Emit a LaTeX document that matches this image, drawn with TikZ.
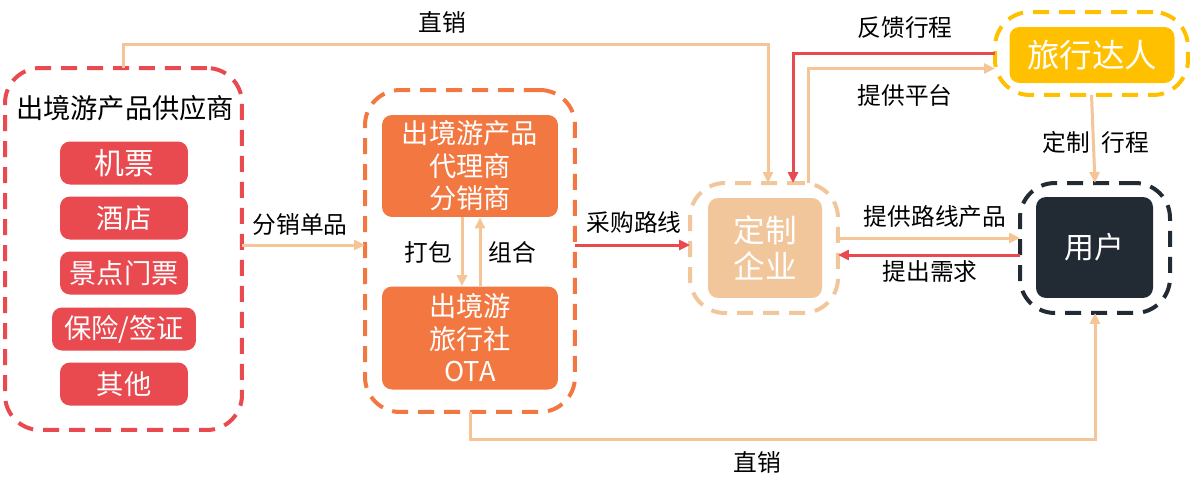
\documentclass[tikz,border=0pt]{standalone}
\usepackage{fontspec}
\setmainfont{Noto Sans CJK SC}
\usetikzlibrary{shapes, arrows.meta, positioning, calc}
\definecolor{supred}{RGB}{232,74,80}
\definecolor{agtorange}{RGB}{242,119,64}
\definecolor{custtan}{RGB}{242,198,155}
\definecolor{lineorange}{RGB}{245,197,152}
\definecolor{expyellow}{RGB}{255,192,0}
\definecolor{userdark}{RGB}{34,42,51}

\tikzset{
  outerbox/.style={rectangle, draw, line width=0.08cm, dash pattern=on 0.32cm off 0.2cm, rounded corners=0.7cm, inner sep=0pt, outer sep=0pt},
  innerbox/.style={rectangle, rounded corners=0.2cm, text=white, align=center, inner sep=0pt},
  itembox/.style={innerbox, fill=supred, minimum width=2.56cm, minimum height=0.86cm, font=\fontsize{15.5}{18}\selectfont},
  link/.style={line width=0.06cm, draw=lineorange, -{Triangle[length=0.22cm,width=0.2cm]}},
  redlink/.style={link, draw=supred},
  lbl/.style={font=\fontsize{13.5}{16}\selectfont}
}

\begin{document}
\begin{tikzpicture}[x=0.02cm, y=-0.02cm]
    \useasboundingbox (0,0) rectangle (1193,491);

    % supplier group
    \node[outerbox, draw=supred, minimum width=4.74cm, minimum height=7.24cm] (supp) at (123.5,249) {};
    \node[font=\fontsize{15.5}{18}\selectfont] (supptitle) at (125,108) {出境游产品供应商};
    \node[itembox, font=\fontsize{17}{20}\selectfont] (ticket) at (124,163) {机票};
    \node[itembox] (hotel) at (124,218) {酒店};
    \node[itembox] (scenic) at (124,273) {景点门票};
    \node[itembox, minimum width=2.88cm] (visa) at (124,329) {保险/签证};
    \node[itembox] (other) at (124,384) {其他};

    % agent group
    \node[outerbox, draw=agtorange, minimum width=4.2cm, minimum height=6.44cm] (agent) at (470,251) {};
    \node[innerbox, fill=agtorange, minimum width=3.52cm, minimum height=2.04cm, font=\fontsize{15.5}{18.5}\selectfont] (dealer) at (470,166) {出境游产品\\代理商\\分销商};
    \node[innerbox, fill=agtorange, minimum width=3.52cm, minimum height=2.06cm, font=\fontsize{15.5}{18.5}\selectfont] (agency) at (470,338) {出境游\\旅行社\\OTA};

    % customize company
    \node[outerbox, draw=custtan, minimum width=2.96cm, minimum height=2.6cm] (cust) at (764,248) {};
    \node[innerbox, fill=custtan, minimum width=2.28cm, minimum height=2cm, font=\fontsize{18}{20.5}\selectfont] (custin) at (765,248) {定制\\企业};

    % travel expert
    \node[outerbox, draw=expyellow, minimum width=3.86cm, minimum height=1.66cm] (expert) at (1091.5,53.5) {};
    \node[innerbox, fill=expyellow, minimum width=3.3cm, minimum height=1.12cm, font=\fontsize{18.5}{21}\selectfont] (expin) at (1092,55) {旅行达人};

    % user
    \node[outerbox, draw=userdark, minimum width=3cm, minimum height=2.6cm] (user) at (1095,248) {};
    \node[innerbox, fill=userdark, minimum width=2.34cm, minimum height=2.02cm, font=\fontsize{17}{20}\selectfont] (userin) at (1094.5,247.5) {用户};

    \coordinate (midline) at (0,245);
    \coordinate (offerline) at (0,238);
    \coordinate (needline) at (0,255);

    % connectors
    \draw[link] (supp.north) -- ++(0,-24) -| ($(cust.north)+(4,0)$);
    \draw[redlink] (expert.west) -| ($(cust.north)+(29,0)$);
    \draw[link] ($(cust.north)+(44,0)$) |- ($(expert.west)+(0,15)$);
    \draw[link] (expert.south) -- (user.north);
    \draw[link] (supp.east |- midline) -- (agent.west |- midline);
    \draw[link] ($(dealer.south)+(-8,0)$) -- ($(agency.north)+(-8,0)$);
    \draw[link] ($(agency.north)+(10,0)$) -- ($(dealer.south)+(10,0)$);
    \draw[redlink] (agent.east |- midline) -- (cust.west |- midline);
    \draw[link] (cust.east |- offerline) -- (user.west |- offerline);
    \draw[redlink] (user.west |- needline) -- (cust.east |- needline);
    \draw[link] (agent.south) -- ++(0,28) -| (user.south);

    % labels
    \node[lbl] (topdirect) at (442,22) {直销};
    \node[lbl] (single) at (300,225) {分销单品};
    \node[lbl] (pack) at (428,252) {打包};
    \node[lbl] (combine) at (512,252) {组合};
    \node[lbl] (purchase) at (634,222) {采购路线};
    \node[lbl] (feedback) at (905,28) {反馈行程};
    \node[lbl] (platform) at (905,95) {提供平台};
    \node[lbl] (custtrip) at (1096,142) {定制\enspace 行程};
    \node[lbl] (offer) at (935,217) {提供路线产品};
    \node[lbl] (need) at (930,272) {提出需求};
    \node[lbl] (botdirect) at (757,462) {直销};
\end{tikzpicture}
\end{document}
